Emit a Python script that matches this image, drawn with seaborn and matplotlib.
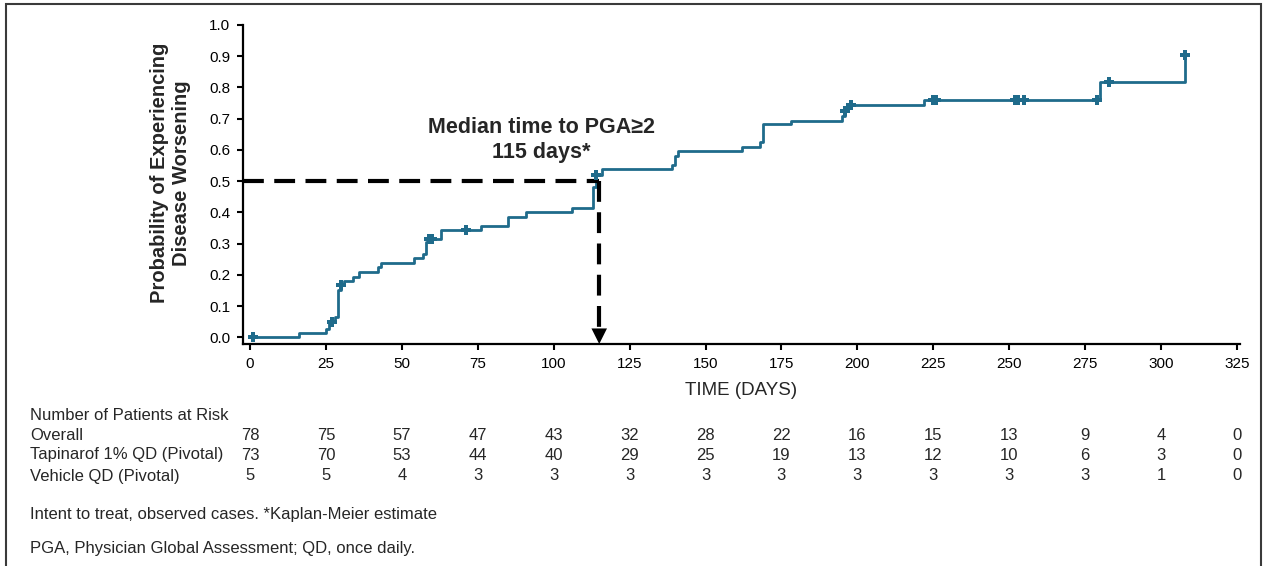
import matplotlib
matplotlib.use('Agg')
import matplotlib.pyplot as plt
import matplotlib.patches as patches
import matplotlib.transforms as mtransforms
import seaborn as sns
import numpy as np
import pandas as pd

# %% Dados (Kaplan-Meier, probabilidade acumulada)
dias = [1, 16, 25, 26, 28, 29, 30, 31, 34, 36, 42, 43, 54, 57, 58, 59, 63, 76, 85, 91,
        106, 113, 114, 116, 139, 140, 141, 162, 168, 169, 178, 195, 196, 197, 198,
        222, 280, 308]
prob = [0.0, 0.013, 0.026, 0.051, 0.067, 0.152, 0.168, 0.182, 0.195, 0.211, 0.225, 0.238,
        0.254, 0.268, 0.304, 0.315, 0.344, 0.357, 0.384, 0.401, 0.414, 0.483, 0.521, 0.539,
        0.553, 0.580, 0.596, 0.610, 0.626, 0.683, 0.694, 0.708, 0.724, 0.735, 0.743,
        0.759, 0.818, 0.905]

censura_dias = [1, 27, 30, 59, 60, 71, 114, 196, 197, 198, 225, 226, 252, 253, 255, 279, 283, 308]

mediana_dias = 115
mediana_prob = 0.5

tempos_risco = [0, 25, 50, 75, 100, 125, 150, 175, 200, 225, 250, 275, 300, 325]
grupos = ['Overall', 'Tapinarof 1% QD (Pivotal)', 'Vehicle QD (Pivotal)']
risco_overall = [78, 75, 57, 47, 43, 32, 28, 22, 16, 15, 13, 9, 4, 0]
risco_tapinarof = [73, 70, 53, 44, 40, 29, 25, 19, 13, 12, 10, 6, 3, 0]
risco_vehicle = [5, 5, 4, 3, 3, 3, 3, 3, 3, 3, 3, 3, 1, 0]

cor = '#1f6b8b'

# %% Tabela da curva e das censuras
curva = pd.DataFrame({'dias': dias, 'prob': prob})
idx = np.searchsorted(np.array(dias), np.array(censura_dias), side='right') - 1
censuras = pd.DataFrame({'dias': censura_dias, 'prob': np.array(prob)[idx]})

# %% Grafico
sns.set_style('ticks')
plt.rcParams['font.family'] = ['Liberation Sans', 'DejaVu Sans']

fig = plt.figure(figsize=(12.67, 5.66), dpi=100)
ax = fig.add_axes([243 / 1267, 222 / 566, 997 / 1267, 319 / 566])

sns.lineplot(data=curva, x='dias', y='prob', drawstyle='steps-post', color=cor,
             linewidth=2.0, ax=ax, sort=False)
sns.scatterplot(data=censuras, x='dias', y='prob', marker='P', s=44, color=cor,
                linewidth=0, ax=ax, zorder=3)

# linhas da mediana
ax.plot([-2.3, mediana_dias], [mediana_prob, mediana_prob], color='black', lw=3,
        dashes=(5, 2.5), dash_capstyle='butt')
ax.plot([mediana_dias, mediana_dias], [mediana_prob, 0.03], color='black', lw=3,
        dashes=(5, 2.5), dash_capstyle='butt')
ax.annotate('', xy=(mediana_dias, -0.021), xytext=(mediana_dias, 0.045),
            arrowprops=dict(arrowstyle='-|>', color='black', lw=0, mutation_scale=28,
                            shrinkA=0, shrinkB=0))

ax.text(96, 0.633, 'Median time to PGA≥2\n115 days*', ha='center', va='center',
        fontsize=15.5, fontweight='bold', linespacing=1.25)

ax.set_xlim(-2.3, 326)
ax.set_ylim(-0.021, 1.0)
ax.set_xticks(tempos_risco)
ax.set_yticks(np.arange(0, 1.01, 0.1))
ax.set_yticklabels([f'{v:.1f}' for v in np.arange(0, 1.01, 0.1)])
ax.tick_params(axis='both', labelsize=11, length=4, width=1.5, color='black',
               labelcolor='black', direction='out', pad=5)
for s in ['left', 'bottom']:
    ax.spines[s].set_linewidth(1.6)
    ax.spines[s].set_color('black')
sns.despine(ax=ax)

ax.set_xlabel('TIME (DAYS)', fontsize=13.5, labelpad=8)
ax.set_ylabel('Probability of Experiencing\nDisease Worsening', fontsize=14.5,
              fontweight='bold', linespacing=1.2)
ax.yaxis.set_label_coords(-0.052, 0.536)

# %% Tabela de pacientes em risco
trans = mtransforms.blended_transform_factory(ax.transData, fig.transFigure)
fig.text(30 / 1267, 1 - 415 / 566, 'Number of Patients at Risk', fontsize=12, va='center')
linhas_y = [1 - 435 / 566, 1 - 455 / 566, 1 - 476 / 566]
for nome, valores, yy in zip(grupos, [risco_overall, risco_tapinarof, risco_vehicle], linhas_y):
    fig.text(30 / 1267, yy, nome, fontsize=12, va='center')
    for t, v in zip(tempos_risco, valores):
        ax.text(t, yy, str(v), transform=trans, fontsize=12, ha='center', va='center')

fig.text(30 / 1267, 1 - 514 / 566, 'Intent to treat, observed cases. *Kaplan-Meier estimate',
         fontsize=12, va='center')
fig.text(30 / 1267, 1 - 548 / 566, 'PGA, Physician Global Assessment; QD, once daily.',
         fontsize=12, va='center')

# moldura
fig.patches.append(patches.Rectangle((6 / 1267, -0.01), 1255 / 1267, 1 - 4 / 566 + 0.01,
                                     transform=fig.transFigure, fill=False,
                                     edgecolor='#3a3a3a', linewidth=1.5, clip_on=False))

fig.savefig('out.png', dpi=100)
